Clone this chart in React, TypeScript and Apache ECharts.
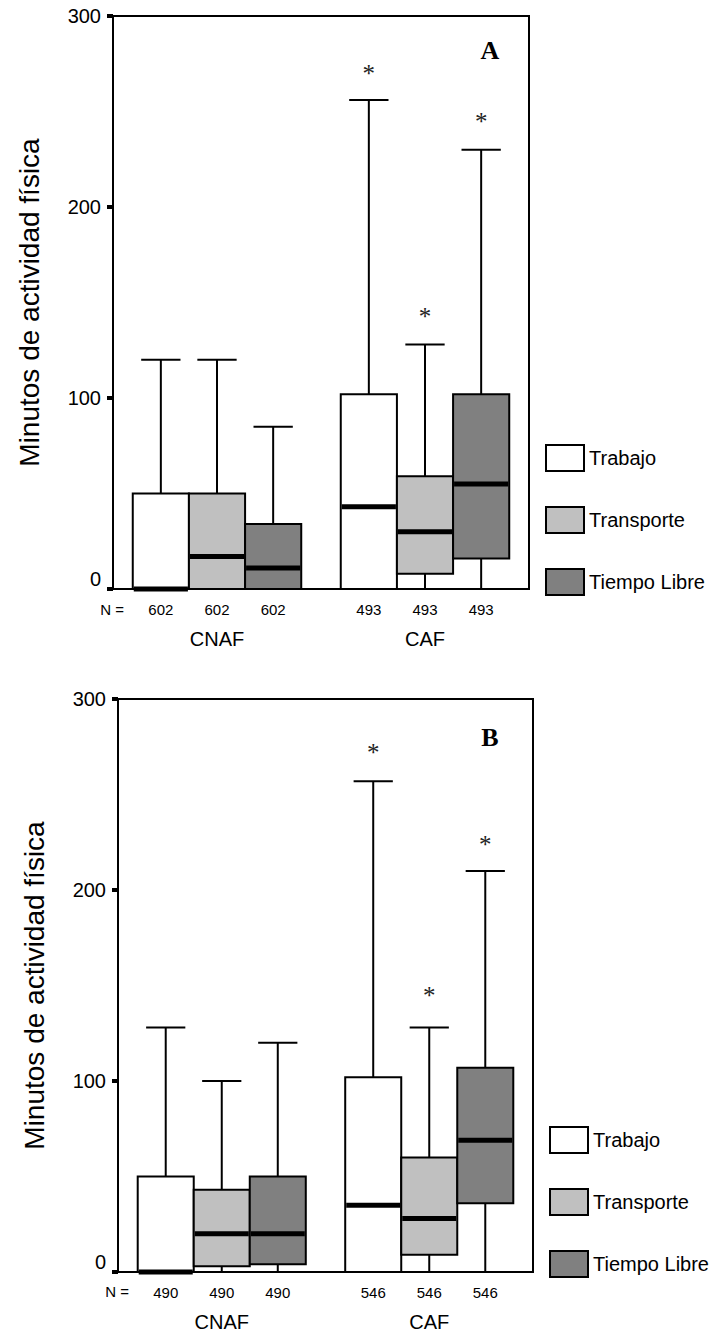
import React, { useEffect, useRef } from 'react';
import * as echarts from 'echarts';

const categories = ['CNAF', 'CAF'];
const seriesNames = ['Trabajo', 'Transporte', 'Tiempo Libre'];
const seriesColors = ['#ffffff', '#c0c0c0', '#808080'];
const yTickValues = [0, 100, 200, 300];

// Panel A: [low, q1, median, q3, high] per category (CNAF, CAF)
const trabajoA = [[0, 0, 0, 50, 120], [0, 0, 43, 102, 256]];
const transporteA = [[0, 0, 17, 50, 120], [0, 8, 30, 59, 128]];
const tiempoA = [[0, 0, 11, 34, 85], [0, 16, 55, 102, 230]];
const trabajoOutA = [null, 272];
const transporteOutA = [null, 145];
const tiempoOutA = [null, 247];
const nA = [602, 493];

// Panel B
const trabajoB = [[0, 0, 0, 50, 128], [0, 0, 35, 102, 257]];
const transporteB = [[0, 3, 20, 43, 100], [0, 9, 28, 60, 128]];
const tiempoB = [[0, 4, 20, 50, 120], [0, 36, 69, 107, 210]];
const trabajoOutB = [null, 274];
const transporteOutB = [null, 147];
const tiempoOutB = [null, 226];
const nB = [490, 546];

const SANS = '"Liberation Sans", Arial, sans-serif';
const SERIF = '"Liberation Serif", "Times New Roman", serif';

function buildData(boxes: number[][], outs: (number | null)[]) {
  return boxes.map((b, i) => [i, ...b, outs[i] == null ? '-' : outs[i]]);
}

function makeRenderItem(seriesIdx: number, color: string, nValues: number[]) {
  return (params: any, api: any) => {
    const cat = api.value(0);
    const low = api.value(1);
    const q1 = api.value(2);
    const med = api.value(3);
    const q3 = api.value(4);
    const high = api.value(5);
    const out = api.value(6);
    const band = api.size([1, 0])[0];
    const w = band * 0.27;
    const capW = w * 0.7;
    const base = api.coord([cat, 0]);
    const cx = base[0] + (seriesIdx - 1) * w;
    const y = (v: number) => api.coord([cat, v])[1];
    const lineStyle = { stroke: '#000', lineWidth: 2 };
    const children: any[] = [];
    if (high > q3) {
      children.push({ type: 'line', shape: { x1: cx, y1: y(q3), x2: cx, y2: y(high) }, style: lineStyle });
      children.push({ type: 'line', shape: { x1: cx - capW / 2, y1: y(high), x2: cx + capW / 2, y2: y(high) }, style: lineStyle });
    }
    if (q1 > low) {
      children.push({ type: 'line', shape: { x1: cx, y1: y(q1), x2: cx, y2: y(low) }, style: lineStyle });
      children.push({ type: 'line', shape: { x1: cx - capW / 2, y1: y(low), x2: cx + capW / 2, y2: y(low) }, style: lineStyle });
    }
    children.push({
      type: 'rect',
      shape: { x: cx - w / 2, y: y(q3), width: w, height: y(q1) - y(q3) },
      style: { fill: color, stroke: '#000', lineWidth: 2 },
    });
    children.push({
      type: 'line',
      shape: { x1: cx - w / 2 + 1, y1: y(med), x2: cx + w / 2 - 1, y2: y(med) },
      style: { stroke: '#000', lineWidth: 5 },
    });
    if (typeof out === 'number' && isFinite(out)) {
      children.push({
        type: 'text',
        x: cx,
        y: y(out) + 4,
        style: { text: '*', fontSize: 25, fontFamily: SERIF, fill: '#222', align: 'center', verticalAlign: 'middle' },
      });
    }
    children.push({
      type: 'text',
      x: cx,
      y: y(0) + 20,
      style: { text: String(nValues[cat]), fontSize: 15, fontFamily: SANS, fill: '#000', align: 'center', verticalAlign: 'middle' },
    });
    return { type: 'group', children };
  };
}

function axes(idx: number) {
  const xAxis = {
    type: 'category',
    gridIndex: idx,
    data: categories,
    axisLine: { lineStyle: { color: '#000', width: 2 } },
    axisTick: { alignWithLabel: true, length: 6, lineStyle: { color: '#000', width: 5 } },
    axisLabel: { color: '#000', fontSize: 20, fontFamily: SANS, margin: 40 },
    splitLine: { show: false },
  };
  const yAxis = {
    type: 'value',
    gridIndex: idx,
    min: yTickValues[0],
    max: yTickValues[yTickValues.length - 1],
    interval: 100,
    name: 'Minutos de actividad física',
    nameLocation: 'middle',
    nameRotate: 90,
    nameGap: 70,
    nameTextStyle: { color: '#000', fontSize: 28, fontFamily: SANS },
    axisLine: { show: true, lineStyle: { color: '#000', width: 2 } },
    axisTick: { show: true, length: 6, lineStyle: { color: '#000', width: 4 } },
    axisLabel: { color: '#000', fontSize: 20, fontFamily: SANS, margin: 12, verticalAlignMinLabel: 'bottom' },
    splitLine: { show: false },
  };
  return { xAxis, yAxis };
}

function seriesFor(idx: number, boxesList: number[][][], outsList: (number | null)[][], nValues: number[]) {
  return boxesList.map((boxes, s) => ({
    type: 'custom',
    name: seriesNames[s],
    xAxisIndex: idx,
    yAxisIndex: idx,
    itemStyle: { color: seriesColors[s], borderColor: '#000', borderWidth: 2 },
    encode: { x: 0, y: [1, 2, 3, 4, 5] },
    renderItem: makeRenderItem(s, seriesColors[s], nValues),
    data: buildData(boxes, outsList[s]),
    clip: false,
  }));
}

const legendData = seriesNames.map((n, i) => ({
  name: n,
  itemStyle: { color: seriesColors[i], borderColor: '#000', borderWidth: 2 },
}));

function legend(left: number, top: number) {
  return {
    left,
    top,
    padding: 0,
    orient: 'vertical',
    icon: 'rect',
    itemWidth: 38,
    itemHeight: 26,
    itemGap: 34,
    selectedMode: false,
    data: legendData,
    textStyle: { color: '#000', fontSize: 20, fontFamily: SANS },
  };
}

export default function App() {
  const ref = useRef<HTMLDivElement>(null);
  useEffect(() => {
    if (!ref.current) return;
    const chart = echarts.init(ref.current, null, { renderer: 'svg' });
    const a0 = axes(0);
    const a1 = axes(1);
    chart.setOption({
      animation: false,
      backgroundColor: '#fff',
      grid: [
        { left: 113, top: 16, width: 416, height: 573, show: true, borderColor: '#000', borderWidth: 2 },
        { left: 118, top: 699, width: 415, height: 573, show: true, borderColor: '#000', borderWidth: 2 },
      ],
      xAxis: [a0.xAxis, a1.xAxis],
      yAxis: [a0.yAxis, a1.yAxis],
      legend: [legend(545, 444), legend(549, 1126)],
      graphic: [
        { type: 'text', x: 490, y: 50, style: { text: 'A', fontSize: 26, fontWeight: 'bold', fontFamily: SERIF, fill: '#000', align: 'center', verticalAlign: 'middle' } },
        { type: 'text', x: 490, y: 737, style: { text: 'B', fontSize: 26, fontWeight: 'bold', fontFamily: SERIF, fill: '#000', align: 'center', verticalAlign: 'middle' } },
        { type: 'text', x: 112, y: 609, style: { text: 'N =', fontSize: 15, fontFamily: SANS, fill: '#000', align: 'center', verticalAlign: 'middle' } },
        { type: 'text', x: 117, y: 1291, style: { text: 'N =', fontSize: 15, fontFamily: SANS, fill: '#000', align: 'center', verticalAlign: 'middle' } },
      ],
      series: [
        ...seriesFor(0, [trabajoA, transporteA, tiempoA], [trabajoOutA, transporteOutA, tiempoOutA], nA),
        ...seriesFor(1, [trabajoB, transporteB, tiempoB], [trabajoOutB, transporteOutB, tiempoOutB], nB),
      ],
    });
    return () => chart.dispose();
  }, []);
  return <div ref={ref} style={{ position: 'absolute', left: 0, top: 0, width: 714, height: 1338 }} />;
}
